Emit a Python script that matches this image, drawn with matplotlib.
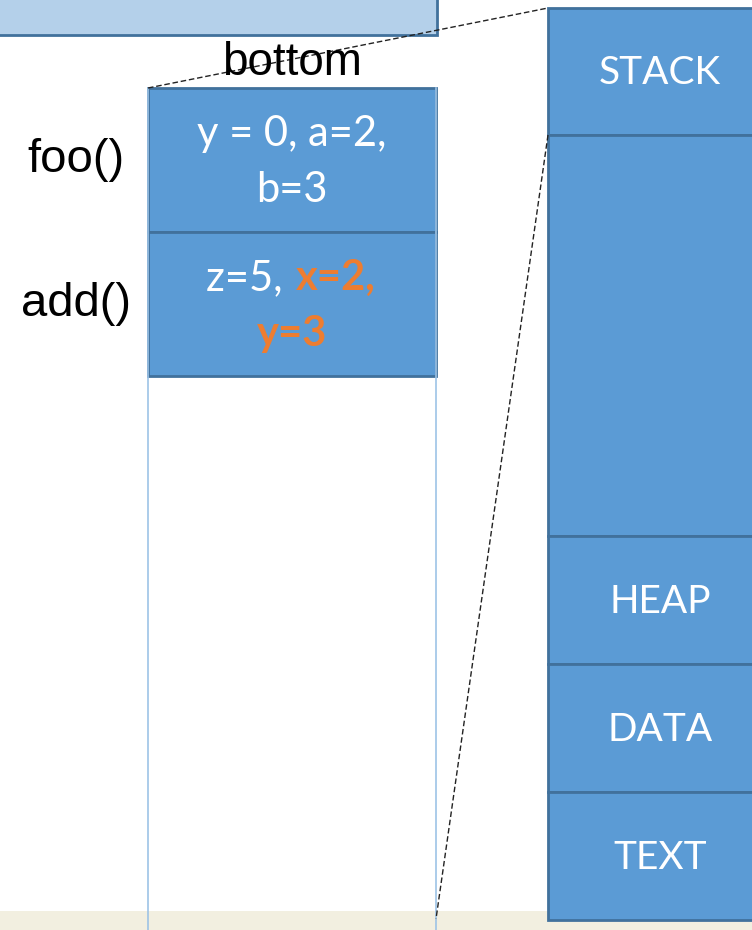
import matplotlib.pyplot as plt
from matplotlib.patches import Rectangle

# stack frames (left column)
frame_names = ["foo()", "add()"]
frame_lines = [[["y = 0, a=2,"], ["b=3"]],
               [["z=5, ", "x=2,"], ["y=3"]]]
frame_orange = [[[False], [False]],
                [[False, True], [True]]]

# memory segments (right column), top to bottom
segments = ["STACK", "", "HEAP", "DATA", "TEXT"]
segment_heights = [127, 401, 128, 128, 128]

fill = "#5B9BD5"
edge = "#41719C"
orange = "#ED7D31"
body_font = ["Lato", "DejaVu Sans"]
label_font = ["Liberation Sans", "DejaVu Sans"]

fig = plt.figure(figsize=(7.52, 9.30), dpi=100)
ax = fig.add_axes([0, 0, 1, 1])
ax.set_xlim(0, 752)
ax.set_ylim(930, 0)
ax.axis("off")

# beige floor strip and top light box
ax.add_patch(Rectangle((-5, 911), 770, 30, facecolor="#F2EFE0", edgecolor="none"))
ax.add_patch(Rectangle((-5, -5), 442, 40, facecolor="#B4D0EA", edgecolor=edge, lw=2))

# stack column
col_x, col_w, col_top, frame_h = 148, 288, 88, 144
ax.plot([col_x, col_x], [col_top, 935], color="#9DC3E6", lw=1.2)
ax.plot([col_x + col_w, col_x + col_w], [col_top, 935], color="#9DC3E6", lw=1.2)
for i, name in enumerate(frame_names):
    y0 = col_top + i * frame_h
    ax.add_patch(Rectangle((col_x, y0), col_w, frame_h, facecolor=fill, edgecolor=edge, lw=2))
    ax.text(76, y0 + frame_h / 2, name, ha="center", va="center", fontsize=34,
            family=label_font, color="black")
    cx = col_x + col_w / 2
    for j, parts in enumerate(frame_lines[i]):
        ly = y0 + 46 + j * 56
        flags = frame_orange[i][j]
        if len(parts) == 1:
            ax.text(cx, ly, parts[0], ha="center", va="center", fontsize=30,
                    family=body_font, color=orange if flags[0] else "white",
                    fontweight="bold" if flags[0] else "normal")
        else:
            ax.text(cx + 1, ly, parts[0], ha="right", va="center", fontsize=30,
                    family=body_font, color="white")
            ax.text(cx + 4, ly, parts[1], ha="left", va="center", fontsize=30,
                    family=body_font, color=orange, fontweight="bold")

ax.text(col_x + col_w / 2, 63, "bottom", ha="center", va="center", fontsize=33,
        family=label_font, color="black")

# memory layout column
seg_x, seg_w = 548, 220
y = 8
seg_tops = []
for name, h in zip(segments, segment_heights):
    ax.add_patch(Rectangle((seg_x, y), seg_w, h, facecolor=fill, edgecolor=edge, lw=2))
    if name:
        ax.text(660, y + h / 2 + 2, name, ha="center", va="center", fontsize=28,
                family=body_font, color="white")
    seg_tops.append(y)
    y += h

# zoom lines
ax.plot([col_x, seg_x], [col_top, seg_tops[0]], color="#222222", lw=1, ls=(0, (4, 2)))
ax.plot([seg_x, col_x + col_w], [seg_tops[1], 919], color="#222222", lw=1, ls=(0, (4, 2)))

fig.savefig("out.png", dpi=100)
